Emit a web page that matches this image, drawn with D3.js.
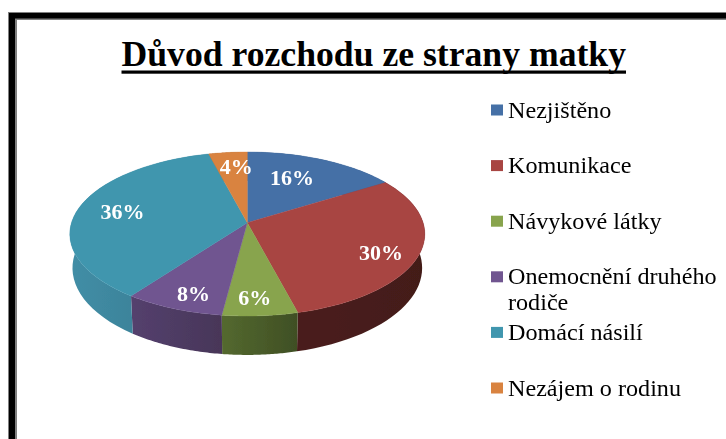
<!DOCTYPE html>
<html>
<head>
<meta charset="utf-8">
<script src="https://cdnjs.cloudflare.com/ajax/libs/d3/7.8.5/d3.min.js"></script>
<style>
html,body{margin:0;padding:0;background:#fff;overflow:hidden}
svg{display:block}
text{font-family:"Liberation Serif",serif}
</style>
</head>
<body>
<script>
const titleText = "Důvod rozchodu ze strany matky";
const categories = ["Nezjištěno","Komunikace","Návykové látky","Onemocnění druhého rodiče","Domácí násilí","Nezájem o rodinu"];
const legendLines = [["Nezjištěno"],["Komunikace"],["Návykové látky"],["Onemocnění druhého","rodiče"],["Domácí násilí"],["Nezájem o rodinu"]];
const values = [16,30,6,8,36,4];
const topColors = ["#4470a6","#a84443","#88a44d","#6f5590","#3f96ae","#d98340"];
const wallLight = ["#2f4f78","#4a1f1c","#54692f","#54406e","#428ea6","#a06030"];
const wallDark  = ["#2f4f78","#431b19","#3f4f24","#483658","#35778d","#a06030"];
const labelNudge = [[-10,0],[15,8],[-1,13],[-4,13],[-6,-1],[3,-5]];

const W = 726, H = 439;
const svg = d3.select("body").append("svg").attr("width",W).attr("height",H);
svg.append("defs").append("filter").attr("id","soft")
  .attr("x","-5%").attr("y","-5%").attr("width","110%").attr("height","110%")
  .append("feGaussianBlur").attr("stdDeviation",0.4);

// frame
svg.append("rect").attr("x",8).attr("y",12).attr("width",W).attr("height",8).attr("fill","#808080");
svg.append("rect").attr("x",8).attr("y",12).attr("width",9).attr("height",H).attr("fill","#808080");
svg.append("rect").attr("x",9).attr("y",13).attr("width",W).attr("height",5.5).attr("fill","#000");
svg.append("rect").attr("x",9).attr("y",13).attr("width",6).attr("height",H).attr("fill","#000");

// title
const tx0 = 121.5, tx1 = 626;
svg.append("text").attr("x",tx0).attr("y",65.5).text(titleText)
  .attr("font-size",36).attr("font-weight","bold").attr("fill","#000")
  .attr("textLength",tx1-tx0).attr("lengthAdjust","spacingAndGlyphs");
svg.append("rect").attr("x",tx0).attr("y",70.5).attr("width",tx1-tx0).attr("height",3.2).attr("fill","#000");

// perspective projection of the pie disc
const cx = 247.3, apexY = 222.7, persp = -0.1378, ya = 49.75, R = 175.8;
function project(theta, r){
  const u = r*Math.sin(theta), v = -r*Math.cos(theta), w = 1 + persp*v;
  return [cx + R*u/w, (ya*v + apexY)/w];
}
const wallShift = p => [cx + (p[0]-cx)*0.985, 268 + (p[1]-234)*1.06];

const pie = d3.pie().sort(null).value(d=>d)(values);
const arcPts = (a0,a1,proj=p=>p) => d3.range(0,41).map(i=>proj(project(a0+(a1-a0)*i/40,1)));
const line = d3.line();
const apex = project(0,0);
const defs = svg.select("defs");
const chart = svg.append("g").attr("filter","url(#soft)");

// walls
pie.forEach((d,i)=>{
  const top = arcPts(d.startAngle,d.endAngle);
  const bot = arcPts(d.startAngle,d.endAngle,wallShift).reverse();
  const xs = top.map(p=>p[0]);
  const g = defs.append("linearGradient").attr("id","wall"+i).attr("gradientUnits","userSpaceOnUse")
    .attr("x1",d3.min(xs)).attr("x2",d3.max(xs)).attr("y1",0).attr("y2",0);
  g.append("stop").attr("offset",0).attr("stop-color",wallLight[i]);
  g.append("stop").attr("offset",1).attr("stop-color",wallDark[i]);
  chart.append("path").attr("d",line(top.concat(bot))+"Z").attr("fill",`url(#wall${i})`);
});

// top surface
chart.append("g").selectAll("path").data(pie).join("path")
  .attr("d",d=>line([apex].concat(arcPts(d.startAngle,d.endAngle)))+"Z")
  .attr("fill",(d,i)=>topColors[i]).attr("stroke",(d,i)=>topColors[i]).attr("stroke-width",0.4);

// data labels
chart.append("g").selectAll("text").data(pie).join("text")
  .attr("x",(d,i)=>project((d.startAngle+d.endAngle)/2,0.7)[0]+labelNudge[i][0])
  .attr("y",(d,i)=>project((d.startAngle+d.endAngle)/2,0.7)[1]+labelNudge[i][1])
  .attr("text-anchor","middle").attr("dominant-baseline","central")
  .attr("font-size",22).attr("font-weight","bold").attr("fill","#fff")
  .text(d=>d.value+"%");

// legend
const legendY = d3.scalePoint().domain(categories).range([110,388]);
const lg = svg.append("g").attr("filter","url(#soft)").selectAll("g").data(categories).join("g")
  .attr("transform",d=>`translate(491,${legendY(d)})`);
lg.append("rect").attr("x",0).attr("y",-5.5).attr("width",12).attr("height",11)
  .attr("fill",(d,i)=>topColors[i]);
lg.each(function(d,i){
  legendLines[i].forEach((t,j)=>{
    d3.select(this).append("text")
      .attr("transform",`translate(17,${7.5+j*26}) scale(1.05,1)`)
      .text(t).attr("font-size",23).attr("fill","#000");
  });
});
</script>
</body>
</html>
